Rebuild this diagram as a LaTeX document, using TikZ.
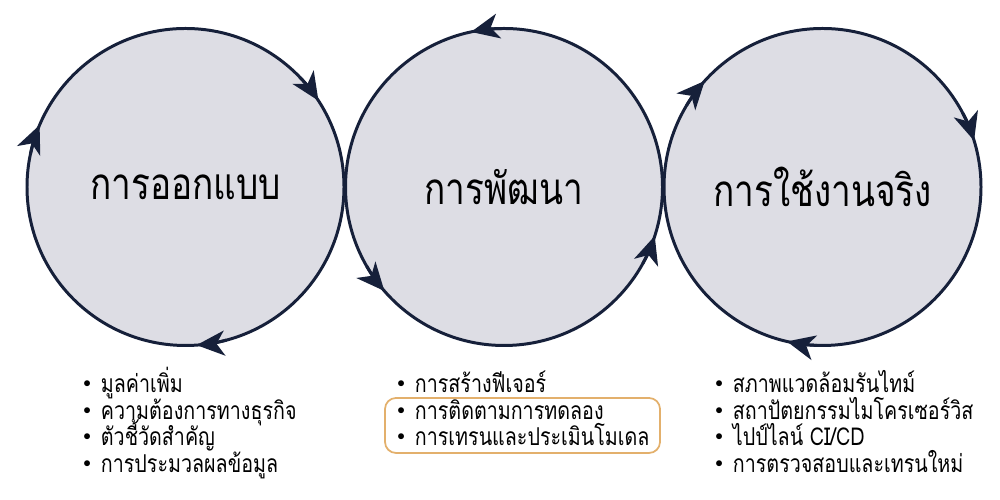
\documentclass[tikz,border=0pt]{standalone}
\usepackage{fontspec}
\newfontfamily\thaifont[Script=Thai, FakeStretch=0.8]{Loma}
\usetikzlibrary{arrows.meta}

\definecolor{ink}{HTML}{16203A}
\definecolor{disc}{HTML}{DDDDE4}
\definecolor{hilite}{HTML}{E3B06C}

\newcommand{\dotitem}{\raisebox{0.45ex}{\scalebox{0.6}{$\bullet$}}\hspace{0.2cm}}

\begin{document}
\begin{tikzpicture}[
	stage/.style={circle, draw=ink, fill=disc, line width=1.7pt, minimum size=6.34cm,
		inner sep=0pt, outer sep=0pt, font=\thaifont\fontsize{25}{30}\selectfont},
	flow/.style={draw=ink, line width=1.7pt,
		-{Stealth[length=0.56cm, width=0.5cm, inset=0.16cm]}},
	point/.style={anchor=base west, inner sep=0pt, font=\thaifont\fontsize{14}{16}\selectfont}
]
	\useasboundingbox (0,0) rectangle (20,10);

	\node [stage] (design) at (3.71, 6.26) {การออกแบบ};
	\node [stage] (develop) at (10.08, 6.26) {การพัฒนา};
	\node [stage] (deploy) at (16.45, 6.26) {การใช้งานจริง};

	% clockwise
	\draw [flow] (design.44) arc [start angle=44, end angle=33, radius=3.17];
	\draw [flow] (design.168) arc [start angle=168, end angle=157, radius=3.17];
	\draw [flow] (design.285) arc [start angle=285, end angle=274, radius=3.17];
	% counter clockwise
	\draw [flow] (develop.91) arc [start angle=91, end angle=102, radius=3.17];
	\draw [flow] (develop.210) arc [start angle=210, end angle=221, radius=3.17];
	\draw [flow] (develop.331) arc [start angle=331, end angle=342, radius=3.17];
	% clockwise
	\draw [flow] (deploy.149) arc [start angle=149, end angle=138, radius=3.17];
	\draw [flow] (deploy.28) arc [start angle=28, end angle=17, radius=3.17];
	\draw [flow] (deploy.268) arc [start angle=268, end angle=257, radius=3.17];

	\draw [hilite, line width=1pt, rounded corners=0.22cm] (7.7, 2.04) rectangle (13.2, 0.94);

	\node [point] (design1) at (1.66, 2.14) {\dotitem มูลค่าเพิ่ม};
	\node [point] (design2) at (1.66, 1.60) {\dotitem ความต้องการทางธุรกิจ};
	\node [point] (design3) at (1.66, 1.08) {\dotitem ตัวชี้วัดสำคัญ};
	\node [point] (design4) at (1.66, 0.54) {\dotitem การประมวลผลข้อมูล};

	\node [point] (develop1) at (7.94, 2.14) {\dotitem การสร้างฟีเจอร์};
	\node [point] (develop2) at (7.94, 1.60) {\dotitem การติดตามการทดลอง};
	\node [point] (develop3) at (7.94, 1.08) {\dotitem การเทรนและประเมินโมเดล};

	\node [point] (deploy1) at (14.3, 2.14) {\dotitem สภาพแวดล้อมรันไทม์};
	\node [point] (deploy2) at (14.3, 1.60) {\dotitem สถาปัตยกรรมไมโครเซอร์วิส};
	\node [point] (deploy3) at (14.3, 1.08) {\dotitem ไปป์ไลน์ CI/CD};
	\node [point] (deploy4) at (14.3, 0.54) {\dotitem การตรวจสอบและเทรนใหม่};
\end{tikzpicture}
\end{document}
